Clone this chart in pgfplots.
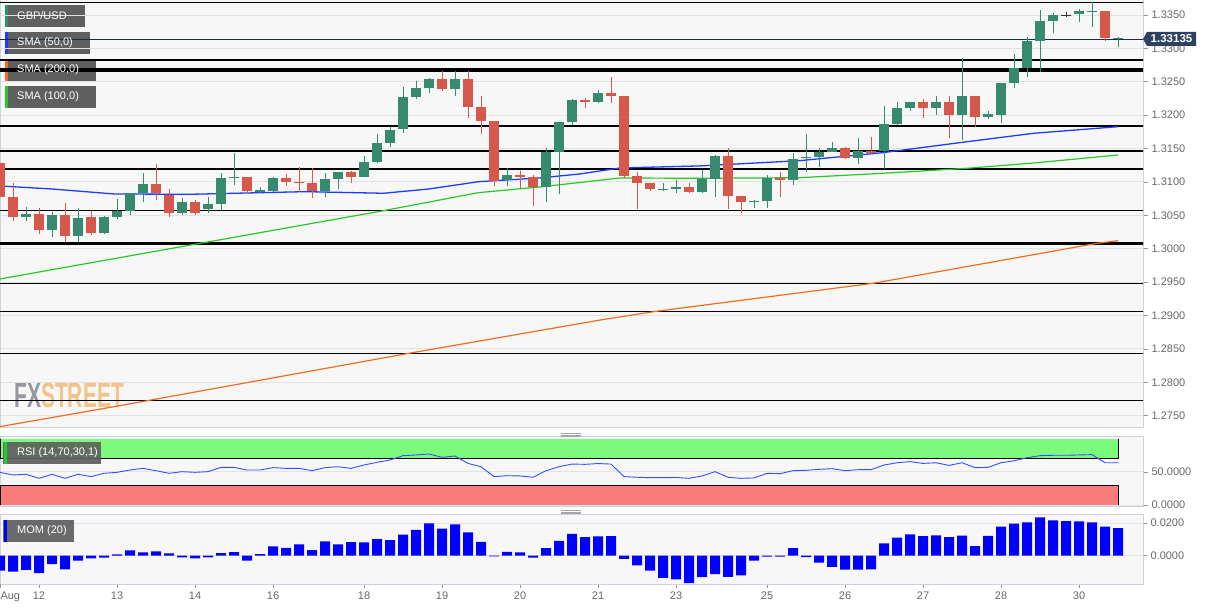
\documentclass[border=0pt]{standalone}
\usepackage{graphicx}
\usepackage{pgfplots}
\pgfplotsset{compat=1.18}
\usepackage{pgfplotstable}
\usepackage{fontspec}
\setmainfont{Liberation Sans}

\definecolor{cgreen}{RGB}{53,138,112}
\definecolor{cred}{RGB}{214,88,74}
\definecolor{cdoji}{RGB}{50,50,50}
\definecolor{panelbg}{RGB}{247,247,247}
\definecolor{border}{RGB}{205,209,224}
\definecolor{gridc}{RGB}{226,226,226}
\definecolor{labc}{RGB}{105,105,105}
\definecolor{navy}{RGB}{44,66,99}
\definecolor{navyline}{RGB}{28,43,69}
\definecolor{sma50}{RGB}{30,60,255}
\definecolor{sma100}{RGB}{40,200,40}
\definecolor{sma200}{RGB}{240,110,30}
\definecolor{boxc}{RGB}{95,95,95}
\definecolor{rsig}{RGB}{124,250,124}
\definecolor{rsir}{RGB}{250,125,125}
\definecolor{rsil}{RGB}{50,80,255}
\definecolor{wmgray}{RGB}{150,150,162}
\definecolor{wmorange}{RGB}{242,196,138}

% x = candle index (4-hour candles), lo hi = wick, bl bh = body bottom/top
\pgfplotstableread{
x lo hi bl bh
2 1.30421 1.30621 1.30481 1.30521
4 1.30182 1.30546 1.30282 1.30506
6 1.30107 1.30606 1.30192 1.30466
8 1.30222 1.30491 1.30232 1.30471
9 1.30441 1.30741 1.30471 1.30571
10 1.30506 1.30840 1.30571 1.30830
11 1.30706 1.31135 1.30840 1.30965
14 1.30506 1.30756 1.30531 1.30706
16 1.30531 1.30771 1.30591 1.30666
17 1.30581 1.31140 1.30666 1.31055
18 1.30955 1.31429 1.31055 1.31080
20 1.30840 1.30920 1.30845 1.30880
21 1.30855 1.31080 1.30870 1.31065
25 1.30771 1.31130 1.30865 1.31045
26 1.30895 1.31145 1.31045 1.31145
28 1.31070 1.31389 1.31080 1.31294
29 1.31290 1.31714 1.31294 1.31579
30 1.31519 1.31818 1.31579 1.31779
31 1.31729 1.32417 1.31793 1.32268
32 1.32238 1.32512 1.32268 1.32402
33 1.32337 1.32552 1.32402 1.32537
35 1.32292 1.32662 1.32387 1.32537
39 1.30945 1.31205 1.31030 1.31105
42 1.30706 1.31504 1.30920 1.31454
43 1.30815 1.31898 1.31454 1.31898
44 1.31853 1.32243 1.31898 1.32228
46 1.32188 1.32377 1.32193 1.32327
51 1.30870 1.30980 1.30885 1.30895
52 1.30840 1.31030 1.30895 1.30930
54 1.30840 1.31180 1.30855 1.31040
55 1.30781 1.31404 1.31040 1.31394
58 1.30606 1.30731 1.30696 1.30716
59 1.30606 1.31105 1.30716 1.31055
61 1.30955 1.31429 1.31030 1.31344
62 1.31155 1.31714 1.31354 1.31379
63 1.31220 1.31504 1.31369 1.31444
64 1.31444 1.31594 1.31444 1.31504
66 1.31270 1.31654 1.31354 1.31464
68 1.31195 1.32143 1.31464 1.31868
69 1.31853 1.32193 1.31868 1.32103
70 1.32063 1.32203 1.32103 1.32193
72 1.32003 1.32293 1.32103 1.32193
74 1.31629 1.32851 1.32003 1.32293
76 1.31938 1.32068 1.31978 1.32013
77 1.31878 1.32487 1.32003 1.32487
78 1.32402 1.32911 1.32487 1.32702
79 1.32567 1.33176 1.32702 1.33116
80 1.32642 1.33575 1.33116 1.33415
81 1.33226 1.33525 1.33415 1.33500
83 1.33390 1.33585 1.33515 1.33560
84 1.33325 1.33690 1.33550 1.33565
86 1.33016 1.33176 1.33135 1.33151
}\greentab

\pgfplotstableread{
x lo hi bl bh
0 1.30771 1.31280 1.30771 1.31280
1 1.30421 1.30980 1.30481 1.30771
3 1.30217 1.30606 1.30282 1.30521
5 1.30107 1.30681 1.30192 1.30506
7 1.30207 1.30566 1.30232 1.30471
12 1.30731 1.31270 1.30830 1.30970
13 1.30471 1.30890 1.30531 1.30805
15 1.30506 1.30731 1.30531 1.30706
19 1.30840 1.31080 1.30865 1.31070
22 1.30940 1.31120 1.31005 1.31055
23 1.30855 1.31220 1.30980 1.31005
24 1.30756 1.31205 1.30865 1.30980
27 1.30990 1.31170 1.31080 1.31145
34 1.32362 1.32662 1.32387 1.32537
36 1.31953 1.32662 1.32118 1.32537
37 1.31714 1.32287 1.31918 1.32118
38 1.30945 1.31918 1.31015 1.31918
40 1.30890 1.31165 1.31080 1.31105
41 1.30646 1.31105 1.30920 1.31070
45 1.32113 1.32253 1.32193 1.32228
47 1.32178 1.32567 1.32282 1.32327
48 1.31065 1.32287 1.31095 1.32282
49 1.30601 1.31155 1.30990 1.31090
50 1.30865 1.30990 1.30890 1.30990
53 1.30830 1.30990 1.30855 1.30930
56 1.30601 1.31504 1.30796 1.31394
57 1.30541 1.30791 1.30696 1.30791
60 1.30781 1.31155 1.31030 1.31055
65 1.31339 1.31529 1.31354 1.31504
67 1.31419 1.31669 1.31439 1.31464
71 1.31953 1.32238 1.32103 1.32193
73 1.31654 1.32293 1.32003 1.32193
75 1.31818 1.32293 1.31978 1.32293
85 1.33111 1.33565 1.33151 1.33565
}\redtab

\pgfplotstableread{
x lo hi bl bh
82 1.33475 1.33550 1.33495 1.33505
}\dojitab

\pgfplotstableread{
x y
0 1.30940
4 1.30895
8.8 1.30820
14.7 1.30816
19 1.30835
23.5 1.30855
29.5 1.30831
33 1.30895
36.8 1.31004
41.5 1.31060
44.6 1.31120
47.7 1.31210
53.8 1.31240
61.5 1.31319
67.9 1.31439
74.4 1.31603
79.5 1.31729
86 1.31828
}\smaA

\pgfplotstableread{
x y
0 1.29548
14.7 1.30057
29.5 1.30570
36.8 1.30840
41.5 1.30925
47.7 1.31060
53.8 1.31055
61.5 1.31064
67.9 1.31130
74.4 1.31205
79.5 1.31284
86 1.31404
}\smaB

\pgfplotstableread{
x y
0 1.27337
8.8 1.27636
31.5 1.28436
46.2 1.28934
50.5 1.29064
67.2 1.29484
84.4 1.30082
86 1.30121
}\smaC

\pgfplotstableread{
x y
0 49.5
1 45.5
2 46.5
3 40.4
4 46.5
5 40.4
6 46.5
7 43
8 48
9 49.5
10 53
11 55.5
12 52
13 48
14 50.5
15 49.5
16 50.5
17 57
18 57
19 53
20 53
21 56.6
22 55.5
23 55.5
24 52
25 56.6
26 58
27 55.5
28 60.6
29 64.6
30 68.2
31 74.7
32 75.8
33 77.3
34 72.2
35 74.2
36 63
37 58
38 43
39 44.4
40 44
41 42
42 52
43 58
44 62
45 61.6
46 62.8
47 62
48 43
49 42
50 41.4
51 41.4
52 41.7
53 40.4
54 44
55 50.5
56 42
57 40.4
58 41
59 48
60 47.5
61 52
62 52.5
63 54
64 55
65 52
66 53.5
67 53.5
68 60.6
69 64
70 65.7
71 63
72 64
73 60
74 64
75 56.6
76 57
77 64
78 67
79 71.7
80 74.7
81 75.3
82 75.3
83 75.8
84 76.3
85 64
86 64
}\rsitab

\pgfplotstableread{
x y
0 -0.0091
1 -0.0097
2 -0.0087
3 -0.0107
4 -0.0051
5 -0.0083
6 -0.0030
7 -0.0016
8 -0.0012
9 0.0008
10 0.0032
11 0.0020
12 0.0026
13 0.0014
14 -0.0010
15 -0.0016
16 -0.0010
17 0.0016
18 0.0022
19 -0.0030
20 0.0010
21 0.0057
22 0.0048
23 0.0069
24 0.0034
25 0.0087
26 0.0069
27 0.0083
28 0.0081
29 0.0101
30 0.0095
31 0.0129
32 0.0158
33 0.0198
34 0.0166
35 0.0192
36 0.0143
37 0.0085
38 -0.0004
39 0.0024
40 0.0020
41 -0.0012
42 0.0046
43 0.0091
44 0.0133
45 0.0113
46 0.0118
47 0.0119
48 -0.0020
49 -0.0059
50 -0.0091
51 -0.0135
52 -0.0145
53 -0.0168
54 -0.0131
55 -0.0113
56 -0.0129
57 -0.0121
58 -0.0030
59 -0.0006
60 -0.0006
61 0.0046
62 -0.0008
63 -0.0042
64 -0.0069
65 -0.0085
66 -0.0085
67 -0.0083
68 0.0075
69 0.0111
70 0.0131
71 0.0119
72 0.0125
73 0.0113
74 0.0123
75 0.0059
76 0.0121
77 0.0178
78 0.0196
79 0.0204
80 0.0234
81 0.0216
82 0.0212
83 0.0210
84 0.0204
85 0.0178
86 0.0168
}\momtab

\pgfplotsset{
  panel/.style={
    scale only axis, width=1143pt, xmin=0, xmax=87.923,
    anchor=south west,
    axis line style={draw=border, line width=1pt},
    ymajorgrids, grid style={draw=gridc, line width=1pt},
    ytick pos=right, yticklabel pos=right,
    tick align=outside, major tick length=5pt,
    tick style={draw=labc!70, line width=0.8pt},
    scaled y ticks=false,
    /pgf/number format/assume math mode=true,
    yticklabel style={font=\fontsize{11}{13}\selectfont, text=labc,
      /pgf/number format/fixed, /pgf/number format/fixed zerofill,
      /pgf/number format/precision=4},
    xticklabel style={font=\fontsize{11}{13}\selectfont, text=labc},
  },
  wick/.style={draw=none, mark=none, forget plot,
    error bars/.cd, y dir=plus, y explicit, error mark=none,
    error bar style={draw=#1, line width=1pt}},
  body/.style={draw=none, mark=none, forget plot,
    error bars/.cd, y dir=plus, y explicit, error mark=none,
    error bar style={draw=#1, line width=9.5pt}},
}

\begin{document}
\begin{tikzpicture}[x=1pt,y=1pt]
\useasboundingbox (0,0) rectangle (1214,610);
\fill[white] (0,0) rectangle (1214,610);
% panel backgrounds
\fill[panelbg] (0,182) rectangle (1143,610);
\fill[panelbg] (0,104) rectangle (1143,173);
\fill[panelbg] (0,26) rectangle (1143,95);
% watermark
\node[anchor=west, inner sep=0pt, font=\bfseries\fontsize{35}{35}\selectfont] at (14,214.5)
  {\scalebox{0.6}[1]{\textcolor{wmgray}{FX}\textcolor{wmorange}{STREET}}};
% legend boxes (under the lines)
\fill[boxc] (5,583) rectangle (85,605);
\fill[cgreen] (5,583) rectangle (8,605);
\fill[boxc] (5,556) rectangle (90,578);
\fill[sma50] (5,556) rectangle (8,578);
\fill[boxc] (5,529) rectangle (96,551);
\fill[sma200] (5,529) rectangle (8,551);
\fill[boxc] (5,502) rectangle (96,524);
\fill[sma100] (5,502) rectangle (8,524);

% ---------------- main price panel ----------------
\begin{axis}[panel, at={(0pt,182pt)}, height=428pt,
  ymin=1.27316, ymax=1.33725, xtick=\empty,
  ytick={1.275,1.28,1.285,1.29,1.295,1.3,1.305,1.31,1.315,1.32,1.325,1.33,1.335}]
  % support / resistance lines
  \addplot[black, line width=1.3pt] coordinates {(-1,1.33690) (90,1.33690)};
  \addplot[black, line width=1.3pt] coordinates {(-1,1.32826) (90,1.32826)};
  \addplot[black, line width=3.2pt] coordinates {(-1,1.32677) (90,1.32677)};
  \addplot[black, line width=1.3pt] coordinates {(-1,1.31838) (90,1.31838)};
  \addplot[black, line width=1.3pt] coordinates {(-1,1.31464) (90,1.31464)};
  \addplot[black, line width=1.3pt] coordinates {(-1,1.31195) (90,1.31195)};
  \addplot[black, line width=1.3pt] coordinates {(-1,1.30576) (90,1.30576)};
  \addplot[black, line width=3.2pt] coordinates {(-1,1.30082) (90,1.30082)};
  \addplot[black, line width=1.3pt] coordinates {(-1,1.29484) (90,1.29484)};
  \addplot[black, line width=1.3pt] coordinates {(-1,1.29064) (90,1.29064)};
  \addplot[black, line width=1.3pt] coordinates {(-1,1.28436) (90,1.28436)};
  \addplot[black, line width=1.3pt] coordinates {(-1,1.27732) (90,1.27732)};
  \addplot[navyline, line width=1.6pt] coordinates {(-1,1.33135) (90,1.33135)};
  % moving averages
  \addplot[sma200, line width=1.2pt] table {\smaC};
  \addplot[sma100, line width=1.2pt] table {\smaB};
  \addplot[sma50, line width=1.3pt] table {\smaA};
  % candles
  \addplot[wick=cgreen] table[x=x, y=lo, y error plus expr=\thisrow{hi}-\thisrow{lo}] {\greentab};
  \addplot[body=cgreen] table[x=x, y=bl, y error plus expr=\thisrow{bh}-\thisrow{bl}] {\greentab};
  \addplot[wick=cred] table[x=x, y=lo, y error plus expr=\thisrow{hi}-\thisrow{lo}] {\redtab};
  \addplot[body=cred] table[x=x, y=bl, y error plus expr=\thisrow{bh}-\thisrow{bl}] {\redtab};
  \addplot[wick=cdoji] table[x=x, y=lo, y error plus expr=\thisrow{hi}-\thisrow{lo}] {\dojitab};
  \addplot[body=cdoji] table[x=x, y=bl, y error plus expr=\thisrow{bh}-\thisrow{bl}] {\dojitab};
\end{axis}
% legend texts on top
\node[anchor=west, inner sep=0pt, text=white, font=\fontsize{11}{13}\selectfont] at (17,594) {GBP/USD};
\node[anchor=west, inner sep=0pt, text=white, font=\fontsize{11}{13}\selectfont] at (17,567) {SMA (50,0)};
\node[anchor=west, inner sep=0pt, text=white, font=\fontsize{11}{13}\selectfont] at (17,540) {SMA (200,0)};
\node[anchor=west, inner sep=0pt, text=white, font=\fontsize{11}{13}\selectfont] at (17,513) {SMA (100,0)};

% ---------------- RSI panel ----------------
\begin{axis}[panel, at={(0pt,104pt)}, height=69pt,
  ymin=-1.5, ymax=103, xtick=\empty, ytick={0,50}]
  \addplot[fill=rsig, draw=none] coordinates {(0,70) (86,70) (86,100) (0,100)} -- cycle;
  \addplot[fill=rsir, draw=none] coordinates {(0,0) (86,0) (86,30) (0,30)} -- cycle;
  \addplot[black, line width=0.9pt] coordinates {(0,100) (0,70) (86,70) (86,100)};
  \addplot[black, line width=0.9pt] coordinates {(0,0) (0,30) (86,30) (86,0)};
  \addplot[rsil, line width=0.9pt] table {\rsitab};
\end{axis}
\fill[boxc, opacity=0.92] (3,146) rectangle (101,168);
\fill[sma100] (4,146) rectangle (7,168);
\node[anchor=west, inner sep=0pt, text=white, font=\fontsize{11}{13}\selectfont] at (17,157) {RSI (14,70,30,1)};

% ---------------- MOM panel ----------------
\begin{axis}[panel, at={(0pt,26pt)}, height=69pt,
  ymin=-0.01732, ymax=0.0249, ytick={0,0.02},
  xtick pos=bottom, major tick length=4pt,
  xtick={3,9,15,21,28,34,40,46,52,59,65,71,77,83},
  xticklabels={12,13,14,16,18,19,20,21,23,25,26,27,28,30},
  extra x ticks={0}, extra x tick labels={Aug},
  extra x tick style={xticklabel style={anchor=north west, xshift=-3pt}}]
  \addplot[ybar, bar width=10pt, bar shift=0pt, fill=blue, draw=none] table {\momtab};
\end{axis}
\fill[boxc, opacity=0.92] (3,68) rectangle (74,90);
\fill[blue] (4,68) rectangle (7,90);
\node[anchor=west, inner sep=0pt, text=white, font=\fontsize{11}{13}\selectfont] at (17,79) {MOM (20)};

% resize handles
\foreach \yy in {176.5,175,173.5} {\draw[gray!70, line width=0.7pt] (561,\yy) -- (581,\yy);}
\foreach \yy in {99.5,98,96.5} {\draw[gray!70, line width=0.7pt] (561,\yy) -- (581,\yy);}

% current price label
\fill[navy] (1143,571) -- (1147,578) -- (1196,578) -- (1196,564) -- (1147,564) -- cycle;
\node[text=white, inner sep=0pt, font=\bfseries\fontsize{11.5}{13}\selectfont] at (1171.5,571) {1.33135};
\end{tikzpicture}
\end{document}
